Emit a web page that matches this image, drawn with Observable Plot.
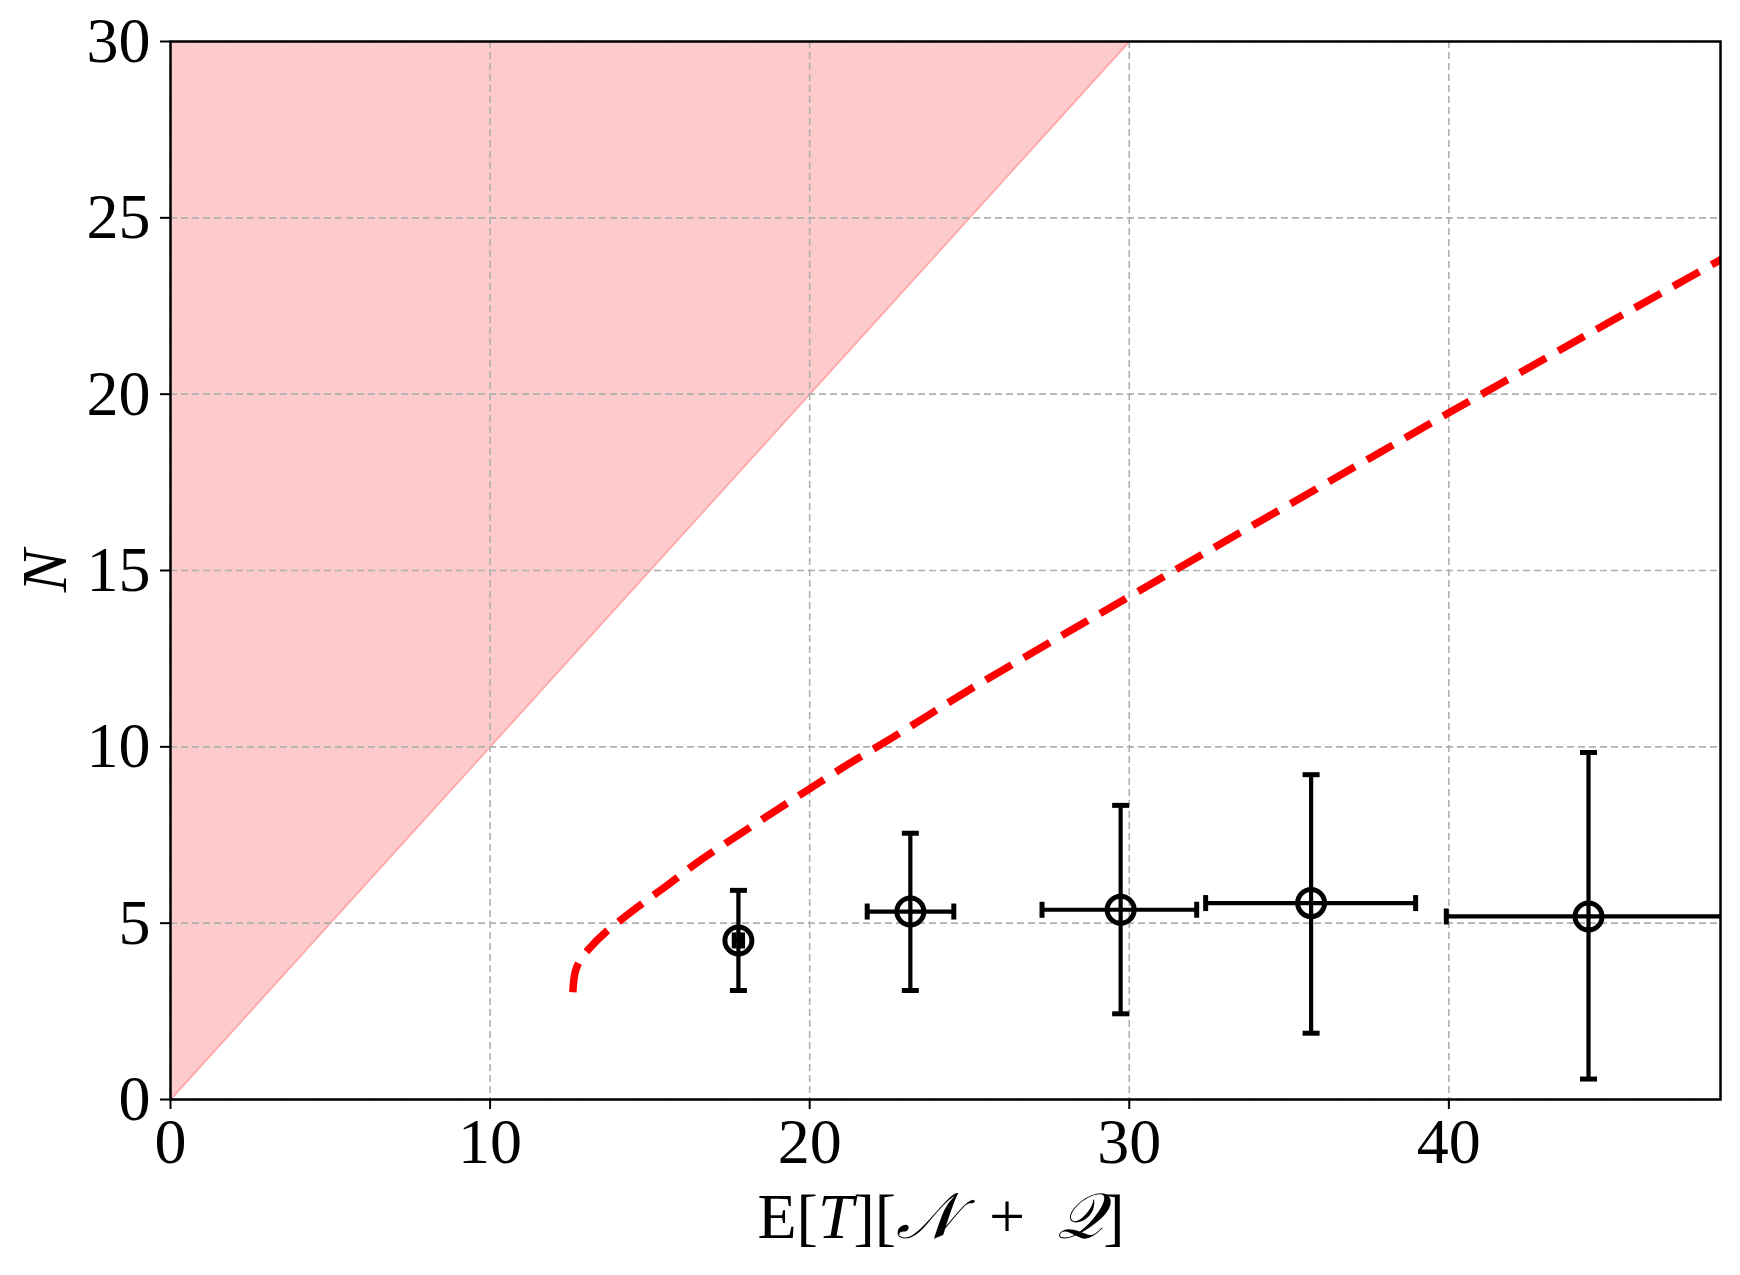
<!DOCTYPE html>
<html><head><meta charset="utf-8">
<script src="https://cdn.jsdelivr.net/npm/d3@7"></script>
<script src="https://cdn.jsdelivr.net/npm/@observablehq/plot@0.6"></script>
<style>body{margin:0;background:#fff}</style>
</head><body><div id="chart"></div>
<script>
// Data points with error bars
const ptX = [17.77, 23.15, 29.73, 35.69, 44.37];
const ptY = [4.51, 5.33, 5.38, 5.57, 5.19];
const yLo = [3.09, 3.09, 2.43, 1.88, 0.58];
const yHi = [5.93, 7.55, 8.34, 9.21, 9.84];
const xLo = [17.64, 21.80, 27.27, 32.39, 39.92];
const xHi = [17.90, 24.51, 32.11, 38.96, 48.82];

// Red dashed curve
const curveX = [12.59, 12.61, 12.68, 12.85, 13.09, 13.61, 14.13, 14.96, 15.46, 16.5, 17.5, 18.95, 20.1, 21.05, 22.55, 25.0, 27.5, 30.0, 32.5, 35.0, 37.5, 40.0, 42.5, 45.0, 47.5, 48.6];
const curveN = [3.04, 3.3, 3.67, 4.0, 4.27, 4.74, 5.12, 5.69, 6.02, 6.73, 7.34, 8.2, 8.87, 9.42, 10.24, 11.62, 12.95, 14.26, 15.57, 16.87, 18.17, 19.47, 20.75, 22.03, 23.3, 23.86];

// Shaded infeasible region (N above E[T])
const bandX = [0, 30];
const bandLow = [0, 30];
const bandHigh = [30, 30];

const xTicks = [0, 10, 20, 30, 40];
const yTicks = [0, 5, 10, 15, 20, 25, 30];

const pts = ptX.map((x, i) => ({x, y: ptY[i], ylo: yLo[i], yhi: yHi[i], xlo: xLo[i], xhi: xHi[i]}));
const curve = curveX.map((x, i) => ({x, y: curveN[i]}));
const band = bandX.map((x, i) => ({x, y1: bandLow[i], y2: bandHigh[i]}));

const hline = {draw(ctx, size) { const r = Math.sqrt(size / Math.PI); ctx.moveTo(-r, 0); ctx.lineTo(r, 0); }};
const vline = {draw(ctx, size) { const r = Math.sqrt(size / Math.PI); ctx.moveTo(0, -r); ctx.lineTo(0, r); }};

const FONT = "'Liberation Serif', 'DejaVu Serif', serif";

const chart = Plot.plot({
  width: 1740, height: 1275,
  marginLeft: 170, marginRight: 20, marginTop: 41, marginBottom: 176,
  style: {fontFamily: FONT, background: "white", color: "black"},
  x: {domain: [0, 48.5]},
  y: {domain: [0, 30]},
  marks: [
    Plot.areaY(band, {x: "x", y1: "y1", y2: "y2", fill: "#fdcbcb", fillOpacity: 1}),
    Plot.line(band, {x: "x", y: "y1", stroke: "#ffaaaa", strokeWidth: 2}),
    Plot.gridX({ticks: xTicks, stroke: "#b0b0b0", strokeOpacity: 1, strokeWidth: 1.6, strokeDasharray: "7,4"}),
    Plot.gridY({ticks: yTicks, stroke: "#b0b0b0", strokeOpacity: 1, strokeWidth: 1.6, strokeDasharray: "7,4"}),
    Plot.line(curve, {x: "x", y: "y", stroke: "red", strokeWidth: 7.5, strokeDasharray: "30,14", strokeLinecap: "butt", curve: "monotone-y", clip: true}),
    Plot.ruleX(pts, {x: "x", y1: "ylo", y2: "yhi", stroke: "black", strokeWidth: 4.2, clip: true}),
    Plot.ruleY(pts, {y: "y", x1: "xlo", x2: "xhi", stroke: "black", strokeWidth: 4.2, clip: true}),
    Plot.dot(pts, {x: "x", y: "ylo", symbol: hline, r: 8.5, stroke: "black", strokeWidth: 5, clip: true}),
    Plot.dot(pts, {x: "x", y: "yhi", symbol: hline, r: 8.5, stroke: "black", strokeWidth: 5, clip: true}),
    Plot.dot(pts, {x: "xlo", y: "y", symbol: vline, r: 8, stroke: "black", strokeWidth: 5, clip: true}),
    Plot.dot(pts, {x: "xhi", y: "y", symbol: vline, r: 8, stroke: "black", strokeWidth: 5, clip: true}),
    Plot.dot(pts, {x: "x", y: "y", r: 13.5, stroke: "black", strokeWidth: 5, fill: "none"}),
    Plot.frame({stroke: "black", strokeWidth: 2.5}),
    Plot.axisX({ticks: xTicks, tickSize: 10, tickPadding: 8, fontSize: 64, label: null, strokeWidth: 2, fontFamily: FONT}),
    Plot.axisY({ticks: yTicks, tickSize: 10, tickPadding: 10, fontSize: 64, label: null, strokeWidth: 2, fontFamily: FONT})
  ]
});
document.getElementById("chart").appendChild(chart);

const svg = d3.select(chart);
const xl = svg.append("text").attr("x", 941).attr("y", 1238).attr("text-anchor", "middle")
  .attr("font-family", FONT).attr("font-size", 64).attr("fill", "black")
  .attr("xml:space", "preserve").style("white-space", "pre");
xl.append("tspan").text("E[");
xl.append("tspan").attr("font-style", "italic").text("T");
xl.append("tspan").text("][");
xl.append("tspan").attr("font-style", "italic").text("𝒩");
xl.append("tspan").text("  +  ");
xl.append("tspan").attr("font-style", "italic").text("𝒬");
xl.append("tspan").text("]");

svg.append("text").attr("transform", "translate(66,571) rotate(-90)").attr("text-anchor", "middle")
  .attr("font-family", FONT).attr("font-size", 64).attr("font-style", "italic").attr("fill", "black").text("N");
</script>
</body></html>
